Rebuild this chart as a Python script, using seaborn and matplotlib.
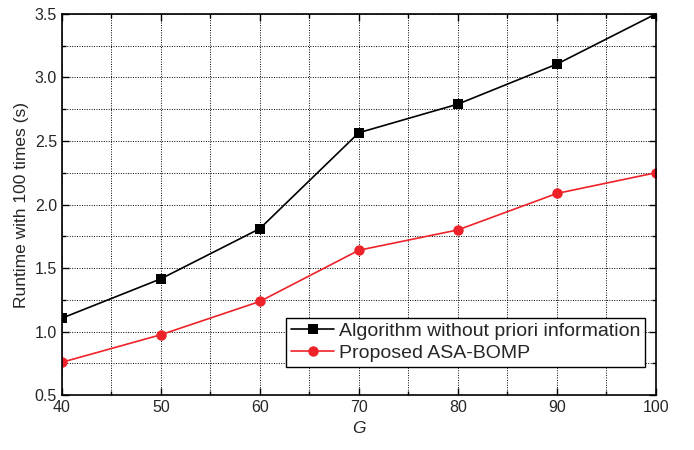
import matplotlib

matplotlib.use("Agg")

import matplotlib.pyplot as plt
import pandas as pd
import seaborn as sns
from matplotlib.ticker import MultipleLocator

g_values = [40, 50, 60, 70, 80, 90, 100]
runtime_no_prior = [1.105, 1.415, 1.81, 2.565, 2.79, 3.105, 3.50]
runtime_asa_bomp = [0.758, 0.975, 1.237, 1.64, 1.80, 2.087, 2.25]
series_names = ["Algorithm without priori information", "Proposed ASA-BOMP"]

df = pd.DataFrame({
    "G": g_values * 2,
    "runtime": runtime_no_prior + runtime_asa_bomp,
    "method": [series_names[0]] * len(g_values) + [series_names[1]] * len(g_values),
})

sns.set_style("ticks")
plt.rcParams["font.family"] = ["Liberation Sans", "DejaVu Sans"]

fig = plt.figure(figsize=(6.94, 4.5), dpi=100)
ax = fig.add_axes([0.089, 0.122, 0.856, 0.847])

sns.lineplot(
    data=df, x="G", y="runtime", hue="method", style="method",
    palette={series_names[0]: "black", series_names[1]: "#ee2229"},
    markers={series_names[0]: "s", series_names[1]: "o"},
    dashes=False, markersize=7.5, markeredgewidth=0, linewidth=1.2, ax=ax,
)

ax.set_xlim(40, 100)
ax.set_ylim(0.5, 3.5)
ax.xaxis.set_major_locator(MultipleLocator(10))
ax.xaxis.set_minor_locator(MultipleLocator(5))
ax.yaxis.set_major_locator(MultipleLocator(0.5))
ax.yaxis.set_minor_locator(MultipleLocator(0.25))
ax.yaxis.set_major_formatter(matplotlib.ticker.FormatStrFormatter("%.1f"))
ax.grid(True, which="both", linestyle=(0, (1, 1.5)), color="black", linewidth=0.7)
ax.tick_params(which="both", direction="in", top=True, right=True, labelsize=11.5, color="black")
ax.tick_params(which="major", length=5, width=1)
ax.tick_params(which="minor", length=3, width=1)
for spine in ax.spines.values():
    spine.set_linewidth(1.2)
    spine.set_color("black")

ax.set_xlabel("G", fontsize=12.5, style="italic")
ax.set_ylabel("Runtime with 100 times (s)", fontsize=12.5)

leg = ax.legend(loc="lower right", bbox_to_anchor=(0.982, 0.074), fontsize=14,
                frameon=True, fancybox=False, edgecolor="black", framealpha=1,
                borderpad=0.25, handlelength=2.2, handletextpad=0.25, labelspacing=0.22,
                borderaxespad=0)
leg.get_frame().set_linewidth(1.0)

fig.savefig("out.png", dpi=100)
plt.close(fig)
